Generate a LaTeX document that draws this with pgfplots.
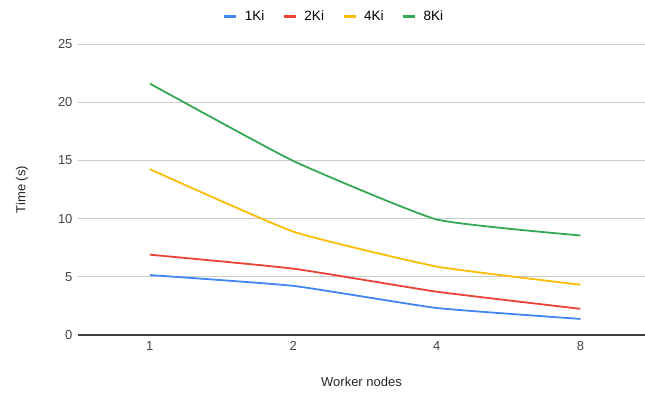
\documentclass[border=0pt]{standalone}
\usepackage{pgfplots}
\pgfplotsset{compat=1.18}
\usepackage{fontspec}
\setmainfont{Liberation Sans}
\definecolor{gblue}{HTML}{4285F4}
\definecolor{gred}{HTML}{EA4335}
\definecolor{gyellow}{HTML}{FBBC04}
\definecolor{ggreen}{HTML}{34A853}
\definecolor{tickgray}{HTML}{444444}
\begin{document}
\begin{tikzpicture}
\begin{axis}[
  at={(0,0)}, anchor=south west,
  scale only axis, width=567pt, height=291pt,
  xmin=-0.5, xmax=3.45, ymin=0, ymax=25,
  xtick={0,1,2,3}, xticklabels={1,2,4,8},
  ytick={0,5,10,15,20,25},
  axis x line*=bottom, axis y line*=left,
  x axis line style={draw=black!75, line width=1.2pt, -},
  y axis line style={draw=none},
  ymajorgrids, grid style={draw=black!20, line width=0.6pt},
  major tick length=0pt,
  tick style={draw=none},
  /pgf/number format/assume math mode=true,
  ticklabel style={font=\fontsize{13}{15}\selectfont, text=tickgray},
  yticklabel style={xshift=-2pt},
  xticklabel style={yshift=-3pt},
  xlabel={Worker nodes}, ylabel={Time (s)},
  label style={font=\fontsize{13}{15}\selectfont, text=black!85},
  xlabel style={at={(axis description cs:0.5,-0.1615)}, anchor=center},
  ylabel style={at={(axis description cs:-0.0988,0.5)}, anchor=center},
  legend columns=-1,
  legend style={draw=none, at={(rel axis cs:0.4515,1.096)}, anchor=center,
    font=\fontsize{13.5}{15}\selectfont,
    /tikz/every odd column/.append style={column sep=5pt},
    /tikz/every even column/.append style={column sep=16pt}},
  legend image code/.code={\draw[#1, line width=3pt] (0pt,0pt) -- (12pt,0pt);},
  every axis plot/.append style={line width=1.8pt, mark=none, smooth, tension=0.25},
]
\addplot[gblue] coordinates {(0,5.15) (1,4.22) (2,2.32) (3,1.38)};
\addlegendentry{1Ki}
\addplot[gred] coordinates {(0,6.9) (1,5.7) (2,3.72) (3,2.25)};
\addlegendentry{2Ki}
\addplot[gyellow] coordinates {(0,14.25) (1,8.88) (2,5.88) (3,4.32)};
\addlegendentry{4Ki}
\addplot[ggreen] coordinates {(0,21.6) (1,14.95) (2,9.92) (3,8.55)};
\addlegendentry{8Ki}
\end{axis}
\pgfresetboundingbox
\path[use as bounding box] (-78pt,-58pt) rectangle (567pt,335pt);
\end{tikzpicture}
\end{document}
